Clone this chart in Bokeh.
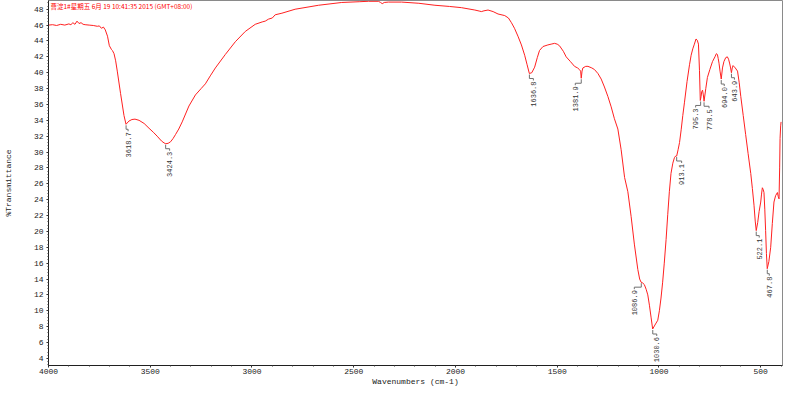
import numpy as np
from bokeh.plotting import figure
from bokeh.models import Range1d, FixedTicker, ColumnDataSource
from bokeh.core.properties import value
from bokeh.embed import file_html
from bokeh.resources import INLINE

# ---------------- data ----------------
wavenumber = [4000, 3980, 3960, 3940, 3920, 3900, 3890, 3880, 3870, 3860, 3850, 3840, 3830, 3820,
              3800, 3780, 3760, 3750, 3740, 3730, 3721, 3710, 3701, 3690, 3686, 3678, 3670, 3662,
              3646, 3629, 3619, 3605, 3590, 3575, 3555, 3530, 3506, 3485, 3466, 3445, 3432, 3424,
              3412, 3400, 3388, 3376, 3360, 3343, 3310, 3278, 3250, 3229, 3205, 3180, 3131, 3082,
              3033, 2984, 2950, 2935, 2919, 2900, 2886, 2853, 2788, 2673, 2559, 2470, 2428, 2379,
              2368, 2360, 2350, 2330, 2265, 2180, 2101, 2030, 1971, 1905, 1880, 1873, 1860, 1840,
              1815, 1791, 1758, 1740, 1725, 1710, 1693, 1676, 1660, 1648, 1637, 1625, 1611, 1598,
              1587, 1570, 1546, 1530, 1513, 1500, 1489, 1470, 1456, 1435, 1415, 1400, 1391, 1385,
              1382, 1378, 1374, 1360, 1349, 1330, 1317, 1300, 1284, 1268, 1251, 1235, 1219, 1202,
              1186, 1169, 1153, 1137, 1121, 1104, 1095, 1088, 1080, 1072, 1063, 1055, 1047, 1039,
              1031, 1020, 1006, 998, 990, 982, 974, 965, 957, 949, 941, 932, 924, 918, 913, 906,
              899, 891, 883, 875, 862, 850, 842, 834, 826, 818, 812, 806, 801, 797, 793, 790, 786,
              782, 778.5, 770, 762, 750, 737, 725, 718, 713, 709, 705, 700, 694, 688, 681, 672,
              664, 658, 652, 648, 644, 640, 636, 625, 614, 606, 598, 586, 574, 562, 549, 541, 533,
              527, 522, 515, 508, 500, 496, 492, 488, 484, 480, 476, 472, 468, 460, 451, 443, 435,
              427, 418, 414, 410, 407, 405, 402, 400]

transmittance = [46.0, 46.05, 45.95, 46.1, 46.0, 46.15, 46.05, 46.3, 46.1, 46.5, 46.2, 46.3, 46.1, 46.05,
                 46.0, 45.95, 45.85, 45.9, 45.6, 45.75, 45.4, 44.6, 43.4, 42.9, 42.8, 42.4, 41.5, 40.2,
                 37.4, 34.6, 33.5, 33.9, 34.1, 34.15, 34.0, 33.6, 33.0, 32.5, 32.0, 31.4, 31.15, 31.05,
                 31.1, 31.3, 31.7, 32.2, 32.9, 33.8, 35.8, 37.2, 38.0, 38.6, 39.6, 40.6, 42.3, 43.9,
                 45.2, 46.1, 46.4, 46.5, 46.75, 46.9, 47.3, 47.5, 48.0, 48.5, 48.85, 48.95, 49.0, 49.0,
                 48.85, 48.7, 48.85, 48.9, 48.9, 48.75, 48.5, 48.35, 48.2, 47.9, 47.75, 47.7, 47.8, 47.9,
                 47.7, 47.4, 47.2, 46.9, 46.3, 45.6, 44.6, 43.5, 42.2, 41.0, 39.9, 40.0, 40.7, 41.9,
                 42.8, 43.3, 43.5, 43.6, 43.7, 43.6, 43.4, 42.7, 42.0, 41.4, 40.8, 40.6, 40.4, 40.2,
                 39.3, 40.2, 40.6, 40.8, 40.8, 40.6, 40.4, 39.9, 39.2, 38.2, 37.0, 35.7, 34.2, 32.9,
                 30.3, 26.8, 25.0, 21.9, 18.4, 15.2, 14.0, 13.6, 13.5, 13.3, 12.7, 12.0, 10.7, 9.2,
                 7.7, 8.2, 8.8, 10.0, 11.6, 13.6, 16.0, 19.0, 22.1, 25.0, 27.3, 28.6, 29.3, 29.5, 29.5, 30.3,
                 31.2, 32.8, 34.6, 36.2, 38.9, 41.0, 42.2, 43.0, 43.6, 44.25, 44.1, 43.6, 40.3, 36.5, 37.0, 37.6, 37.8,
                 37.2, 36.4, 38.0, 39.4, 40.4, 41.4, 42.0, 42.4, 42.3, 41.8, 41.2, 40.2, 39.2, 40.6, 41.4, 41.9,
                 42.0, 41.7, 41.1, 40.6, 40.0, 40.6, 40.9, 40.6, 40.2, 38.8, 37.0, 34.6, 32.2, 29.8, 27.3, 25.4, 23.3,
                 21.3, 20.1, 21.1, 22.5, 23.7, 24.7, 25.5, 25.3, 24.9, 22.8, 20.1, 17.2, 15.3, 16.2, 18.0, 21.0, 23.7,
                 24.5, 24.9, 24.4, 24.1, 28.0, 31.7, 33.3, 33.8]

peak_wn = [3618.7, 3424.3, 1636.8, 1381.9, 1086.9, 1030.6, 913.1, 795.3, 778.5, 694.0, 643.9, 522.1, 467.8]
peak_t = [33.5, 31.05, 39.9, 39.3, 13.6, 7.7, 29.5, 36.5, 36.4, 39.2, 40.0, 20.1, 15.3]
peak_text = ["%.1f" % w for w in peak_wn]

x_ticks = [500, 1000, 1500, 2000, 2500, 3000, 3500, 4000]
y_ticks = list(range(4, 50, 2))

title_text = "曹淀1#星期五 6月 19 10:41:35 2015 (GMT+08:00)"

# ---------------- layout / style ----------------
W, H = 784, 388
BL, BR, BT, BB = 46, 2, 0, 22
X0, X1 = 4000, 393
Y0, Y1 = 3.1, 49.1
frame_w = W - BL - BR
frame_h = H - BT - BB
wn_per_px = (X0 - X1) / frame_w
t_per_px = (Y1 - Y0) / frame_h

# label horizontal shifts in px (style only)
label_dx = [2, 4, 4, -6, -7, 4, 5, -5, 5, 3, 3, 3, 2]

p = figure(width=W, height=H, output_backend="svg", toolbar_location=None,
           x_range=Range1d(X0, X1), y_range=Range1d(Y0, Y1),
           min_border_left=BL, min_border_right=BR, min_border_top=BT, min_border_bottom=BB)
p.background_fill_color = "white"
p.border_fill_color = "white"
p.outline_line_color = "#8a8a8a"
p.outline_line_width = 1
p.xgrid.visible = False
p.ygrid.visible = False

font = "Liberation Mono"
p.xaxis.ticker = FixedTicker(ticks=x_ticks, minor_ticks=list(range(400, 4001, 100)))
p.yaxis.ticker = FixedTicker(ticks=y_ticks, minor_ticks=[round(3.2 + 0.4 * i, 1) for i in range(116)])
for ax in (p.xaxis[0], p.yaxis[0]):
    ax.axis_line_color = "#202020"
    ax.major_tick_line_color = "#202020"
    ax.minor_tick_line_color = "#404040"
    ax.major_label_text_font = font
    ax.major_label_text_font_size = "8px"
    ax.major_label_text_color = "#222222"
    ax.axis_label_text_font = font
    ax.axis_label_text_font_size = "8px"
    ax.axis_label_text_font_style = "normal"
    ax.axis_label_text_color = "#222222"
    ax.major_tick_out = 2
    ax.major_tick_in = 0
    ax.minor_tick_out = 1
    ax.minor_tick_in = 0
    ax.major_label_standoff = 1
    ax.axis_label_standoff = 0
p.xaxis.axis_label = "Wavenumbers (cm-1)"
p.yaxis.axis_label = "%Transmittance"
p.yaxis.major_label_standoff = 3
p.yaxis.axis_label_standoff = 18

p.line(wavenumber, transmittance, line_color="#ff2020", line_width=1)

# peak leaders and labels
xs, ys, lx, ly = [], [], [], []
for w, t, dx in zip(peak_wn, peak_t, label_dx):
    top = t - 1 * t_per_px
    bend = t - 5 * t_per_px
    wl = w - dx * wn_per_px
    xs.append([w, w, wl, wl])
    ys.append([top, bend, bend, bend - 2 * t_per_px])
    lx.append(wl)
    ly.append(bend - 3 * t_per_px)
p.multi_line(xs, ys, line_color="#707070", line_width=1)
src = ColumnDataSource(dict(x=lx, y=ly, text=peak_text))
p.text(x="x", y="y", text="text", source=src, angle=np.pi / 2,
       text_align="right", text_baseline="middle",
       text_font=value(font), text_font_size="7px", text_color="#333333")

p.text(x=[X0 - 2 * wn_per_px], y=[Y1 - 1 * t_per_px], text=[title_text],
       text_align="left", text_baseline="top",
       text_font=value("Noto Sans CJK SC"), text_font_size="6.5px", text_color="#ff0000")

open("out.html", "w").write(file_html(p, INLINE))
